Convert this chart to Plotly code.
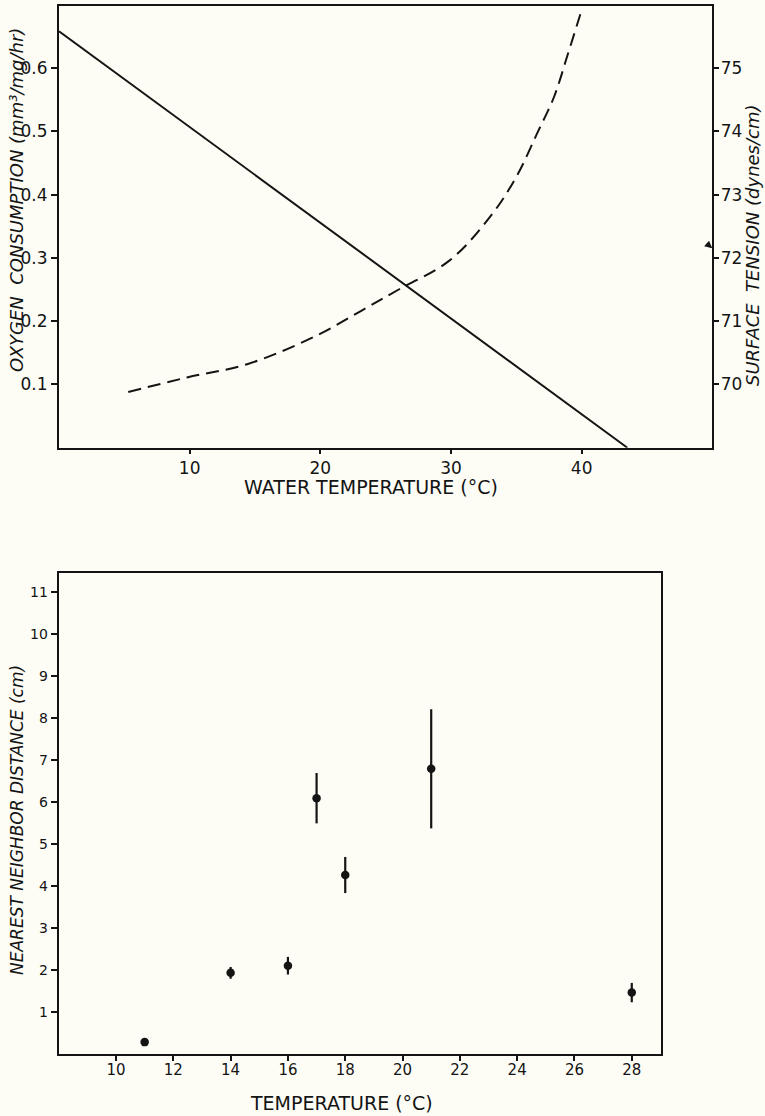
import plotly.graph_objects as go

# ---- Top chart data ----
# Oxygen consumption (left axis, dashed)
oxy_temp = [5.3, 9.8, 14.4, 19.6, 23.1, 26.0, 29.9, 33.0, 35.0, 36.6, 37.9, 38.9, 39.9]
oxy_cons = [0.088, 0.111, 0.132, 0.176, 0.216, 0.250, 0.296, 0.365, 0.428, 0.497, 0.555, 0.619, 0.685]
# Surface tension (right axis, solid)
st_temp = [0, 10, 20, 30, 40, 43.5]
st_val = [75.58, 74.07, 72.55, 71.04, 69.53, 69.0]

top_xticks = [10, 20, 30, 40]
left_yticks = [0.1, 0.2, 0.3, 0.4, 0.5, 0.6]
left_yticktext = ["0.1", "0.2", "0.3", "0.4", "0.5", "0.6"]
right_yticks = [70, 71, 72, 73, 74, 75]

# ---- Bottom chart data ----
nn_temp = [11, 14, 16, 17, 18, 21, 28]
nn_dist = [0.29, 1.94, 2.11, 6.10, 4.27, 6.80, 1.47]
nn_err = [0.0, 0.14, 0.21, 0.60, 0.43, 1.42, 0.23]
bot_xticks = [10, 12, 14, 16, 18, 20, 22, 24, 26, 28]
bot_yticks = [1, 2, 3, 4, 5, 6, 7, 8, 9, 10, 11]

W, H = 765, 1116
BG = "#fdfdf6"
INK = "#141414"
FONT = "DejaVu Sans"

fig = go.Figure()

fig.add_trace(go.Scatter(
    x=oxy_temp, y=oxy_cons, mode="lines", line=dict(color=INK, width=2, dash="13px,7px", shape="spline"),
    xaxis="x", yaxis="y", showlegend=False))
fig.add_trace(go.Scatter(
    x=st_temp, y=st_val, mode="lines", line=dict(color=INK, width=2),
    xaxis="x", yaxis="y2", showlegend=False, cliponaxis=True))

fig.add_trace(go.Scatter(
    x=nn_temp, y=nn_dist, mode="markers",
    marker=dict(color=INK, size=8.5),
    error_y=dict(type="data", array=nn_err, visible=True, color=INK, thickness=2.2, width=0),
    xaxis="x3", yaxis="y3", showlegend=False))

def px_x(p):
    return p / W

def px_y(p):
    return (H - p) / H

axis_common = dict(showline=True, linecolor=INK, linewidth=2, showgrid=False, zeroline=False,
                   ticks="outside", tickcolor=INK, tickwidth=1.5)

fig.update_layout(
    width=W, height=H, margin=dict(l=0, r=0, t=0, b=0),
    paper_bgcolor=BG, plot_bgcolor=BG,
    font=dict(family=FONT, color=INK),
    xaxis=dict(domain=[px_x(59), px_x(712.3)], range=[0, 50], tickvals=top_xticks,
               ticklen=4, mirror=True, anchor="y", tickfont=dict(size=17), **axis_common),
    yaxis=dict(domain=[px_y(447.7), px_y(6)], range=[0, 0.698], tickvals=left_yticks,
               ticktext=left_yticktext, ticklen=6, mirror=True, anchor="x",
               tickfont=dict(size=17), **axis_common),
    yaxis2=dict(overlaying="y", side="right", anchor="x", range=[69, 75.98], tickvals=right_yticks,
                ticklen=5, tickfont=dict(size=17), ticklabelstandoff=-2, **axis_common),
    xaxis3=dict(domain=[px_x(58.7), px_x(661)], range=[8.0, 29.02], tickvals=bot_xticks,
                ticklen=5, mirror=True, anchor="y3", tickfont=dict(size=15),
                ticklabelstandoff=-4, **axis_common),
    yaxis3=dict(domain=[px_y(1054.3), px_y(572.7)], range=[0, 11.47], tickvals=bot_yticks,
                ticklen=6, mirror=True, anchor="x3", tickfont=dict(size=14), **axis_common),
)

annotations = [
    dict(text="WATER TEMPERATURE (°C)", x=px_x(371), y=px_y(487), font=dict(size=19)),
    dict(text="<i>OXYGEN  CONSUMPTION (mm³/mg/hr)</i>", x=px_x(16), y=px_y(200), textangle=-90,
         font=dict(size=18)),
    dict(text="<i>SURFACE  TENSION (dynes/cm)</i>", x=px_x(752), y=px_y(245), textangle=-90,
         font=dict(size=18)),
    dict(text="TEMPERATURE (°C)", x=px_x(341.7), y=px_y(1103), font=dict(size=19)),
    dict(text="<i>NEAREST NEIGHBOR DISTANCE (cm)</i>", x=px_x(17), y=px_y(820), textangle=-90,
         font=dict(size=17)),
]
for a in annotations:
    a.update(xref="paper", yref="paper", showarrow=False, xanchor="center", yanchor="middle")
    fig.add_annotation(**a)

# small arrow mark near the 72 tick on the right axis
fig.add_annotation(x=50, y=72.15, xref="x", yref="y2", text="", showarrow=True,
                   arrowhead=2, arrowsize=1, arrowwidth=1.5, arrowcolor=INK, ax=-7, ay=-6)

fig.write_html("out.html", config={"displayModeBar": False},
               post_script="document.body.style.margin='0';document.body.style.padding='0';"
                           "document.body.style.overflow='hidden';")
